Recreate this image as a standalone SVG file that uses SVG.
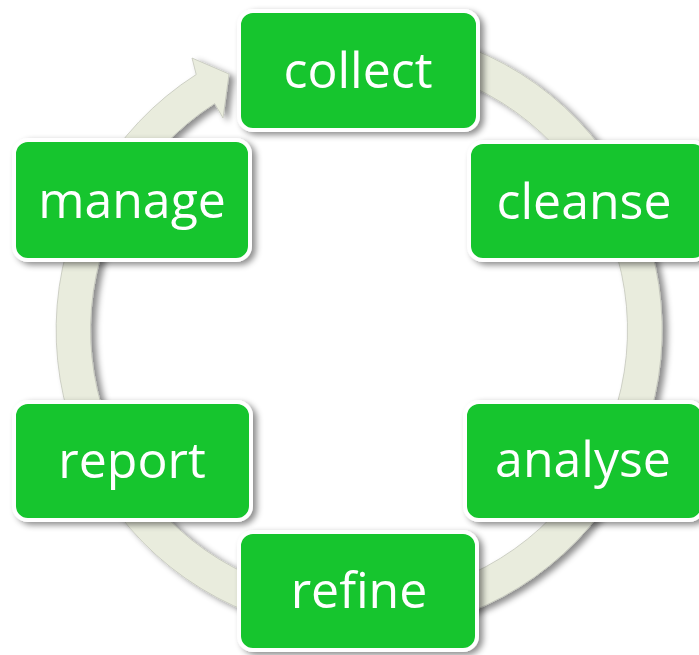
<svg xmlns="http://www.w3.org/2000/svg" width="699" height="655" viewBox="0 0 699 655">
<defs>
<filter id="sh" x="-20%" y="-20%" width="140%" height="140%">
<feDropShadow dx="4" dy="3" stdDeviation="3" flood-color="#000" flood-opacity="0.45"/>
</filter>
<filter id="shr" x="-10%" y="-10%" width="120%" height="120%">
<feDropShadow dx="5" dy="3" stdDeviation="3" flood-color="#000" flood-opacity="0.45"/>
</filter>
</defs>
<style>
.box{fill:#15c52d;stroke:#fff;stroke-width:4;filter:url(#sh)}
.lbl{font-family:"Open Sans","Liberation Sans",sans-serif;font-size:50px;fill:#fff;text-anchor:middle}
.ring{fill:#e9ecdd;stroke:#c4c6bb;stroke-width:0.8;filter:url(#shr)}
</style>
<rect width="699" height="655" fill="#fff"/>
<g id="connectors">
<path class="ring" d="M 306.4 31.6 A 303 303 0 1 1 196.2 74.5 L 192 58 L 229 74 L 223 118 L 214.7 103.6 A 268.5 268.5 0 1 0 312.4 65.6 Z"/>
</g>
<g id="collect"><rect class="box" x="239" y="11" width="239" height="119" rx="14"/><text class="lbl" x="358" y="88">collect</text></g>
<g id="cleanse"><rect class="box" x="469" y="142" width="238" height="118" rx="14"/><text class="lbl" x="584" y="219">cleanse</text></g>
<g id="analyse"><rect class="box" x="465" y="402" width="238" height="118" rx="14"/><text class="lbl" x="583" y="477">analyse</text></g>
<g id="refine"><rect class="box" x="239" y="532" width="238" height="118" rx="14"/><text class="lbl" x="359" y="608">refine</text></g>
<g id="report"><rect class="box" x="14" y="402" width="237" height="118" rx="14"/><text class="lbl" x="132" y="478">report</text></g>
<g id="manage"><rect class="box" x="14" y="140" width="236" height="120" rx="14"/><text class="lbl" x="132" y="218">manage</text></g>
</svg>
